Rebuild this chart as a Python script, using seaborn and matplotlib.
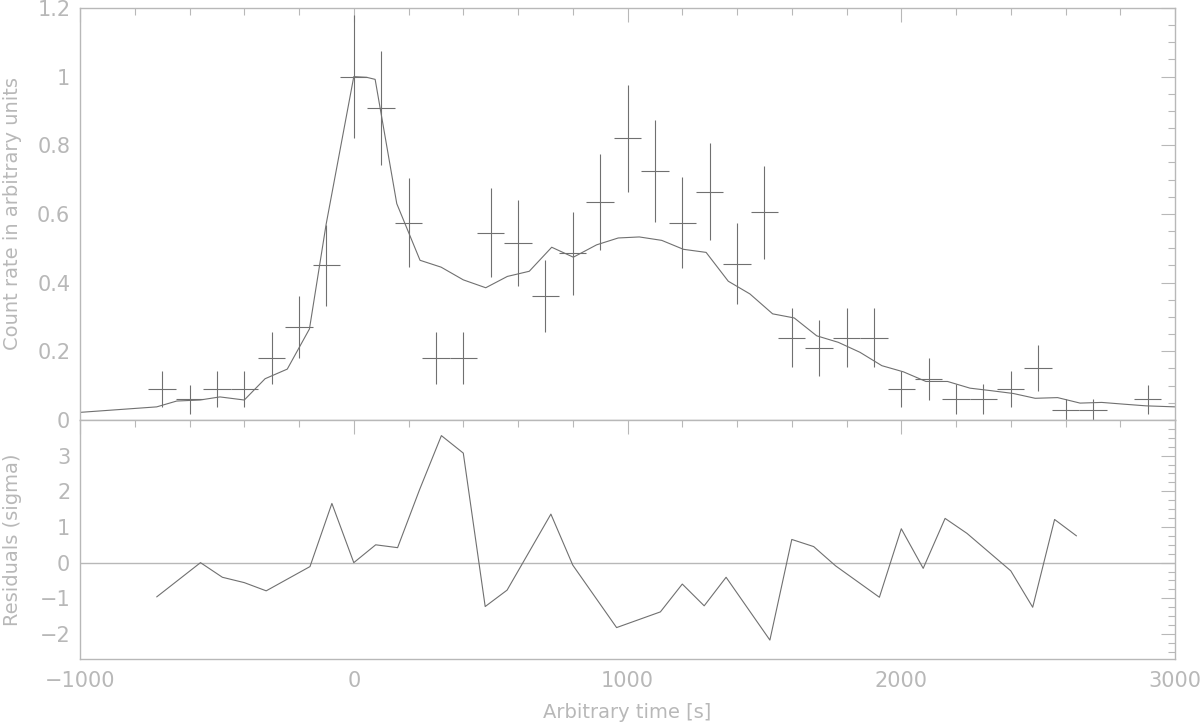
import matplotlib
matplotlib.use("Agg")
import matplotlib.pyplot as plt
import seaborn as sns
import pandas as pd
from matplotlib.ticker import MultipleLocator

# binned light curve (100 s bins)
t_data = [-700, -600, -500, -400, -300, -200, -100, 0, 100, 200, 300, 400, 500, 600,
          700, 800, 900, 1000, 1100, 1200, 1300, 1400, 1500, 1600, 1700, 1800, 1900,
          2000, 2100, 2200, 2300, 2400, 2500, 2600, 2700, 2900]
rate = [0.09, 0.06, 0.09, 0.09, 0.18, 0.27, 0.45, 1.00, 0.91, 0.575, 0.18, 0.18, 0.545,
        0.515, 0.36, 0.485, 0.635, 0.82, 0.725, 0.575, 0.665, 0.455, 0.605, 0.24, 0.21,
        0.24, 0.24, 0.09, 0.12, 0.06, 0.06, 0.09, 0.15, 0.03, 0.03, 0.06]
rate_err = [0.053, 0.043, 0.053, 0.053, 0.075, 0.09, 0.117, 0.18, 0.166, 0.13, 0.075,
            0.075, 0.13, 0.125, 0.105, 0.121, 0.139, 0.157, 0.148, 0.132, 0.141, 0.118,
            0.136, 0.086, 0.081, 0.086, 0.086, 0.053, 0.061, 0.044, 0.044, 0.053, 0.067,
            0.03, 0.03, 0.043]
bin_half = 50

# model curve
t_model = [-1000, -720, -647, -562, -489, -400, -324, -243, -162, -101, 0, 47, 78, 157,
           242, 319, 400, 482, 561, 641, 723, 802, 887, 966, 1043, 1125, 1204, 1287,
           1368, 1447, 1530, 1609, 1691, 1770, 1849, 1929, 2008, 2090, 2169, 2251, 2330,
           2409, 2489, 2571, 2653, 2732, 2811, 2894, 3000]
model = [0.022, 0.038, 0.055, 0.058, 0.067, 0.058, 0.12, 0.148, 0.265, 0.57, 1.0, 0.998,
         0.992, 0.63, 0.465, 0.445, 0.408, 0.385, 0.418, 0.433, 0.503, 0.474, 0.510,
         0.530, 0.533, 0.523, 0.497, 0.488, 0.404, 0.367, 0.309, 0.297, 0.245, 0.226,
         0.197, 0.158, 0.140, 0.112, 0.112, 0.0925, 0.085, 0.077, 0.063, 0.065, 0.049,
         0.051, 0.046, 0.041, 0.038]

# residuals in sigma
t_res = [-720, -560, -480, -400, -320, -160, -80, 0, 80, 160, 240, 320, 400, 480, 560,
         720, 800, 960, 1120, 1200, 1280, 1360, 1520, 1600, 1680, 1760, 1920, 2000,
         2080, 2160, 2240, 2400, 2480, 2560, 2640]
resid = [-0.96, 0.0, -0.41, -0.56, -0.79, -0.11, 1.66, 0.0, 0.50, 0.42, 2.04, 3.56, 3.07,
         -1.23, -0.77, 1.36, -0.07, -1.82, -1.38, -0.60, -1.21, -0.41, -2.17, 0.65, 0.45,
         -0.09, -0.97, 0.95, -0.16, 1.24, 0.82, -0.23, -1.25, 1.21, 0.75]

AX = "#b8b8b8"   # axes / text grey
LN = "#707070"   # data grey

sns.set_style("white")
plt.rcParams["font.family"] = ["DejaVu Sans"]
plt.rcParams.update({
    "axes.edgecolor": AX, "axes.linewidth": 1.0,
    "xtick.color": AX, "ytick.color": AX,
    "xtick.labelcolor": AX, "ytick.labelcolor": AX,
    "xtick.direction": "in", "ytick.direction": "in",
    "text.color": AX, "axes.labelcolor": AX,
})

fig = plt.figure(figsize=(12, 7.24), dpi=100)
ax1 = fig.add_axes([0.0667, 0.42, 0.9125, 0.569])
ax2 = fig.add_axes([0.0667, 0.0898, 0.9125, 0.3302])

df_model = pd.DataFrame({"t": t_model, "rate": model})
df_res = pd.DataFrame({"t": t_res, "resid": resid})

# top: light curve
ax1.errorbar(t_data, rate, xerr=bin_half, yerr=rate_err, fmt="none",
             ecolor=LN, elinewidth=0.8, capsize=0)
sns.lineplot(data=df_model, x="t", y="rate", ax=ax1, color=LN, linewidth=0.8,
             sort=False, estimator=None)
ax1.set_xlim(-1000, 3000)
ax1.set_ylim(0, 1.2)
ax1.set_xlabel("")
ax1.set_ylabel("Count rate in arbitrary units", fontsize=14)
ax1.yaxis.set_label_coords(-0.062, 0.5)
ax1.yaxis.label.set_va("center")
ax1.xaxis.set_major_locator(MultipleLocator(1000))
ax1.xaxis.set_minor_locator(MultipleLocator(200))
ax1.yaxis.set_minor_locator(MultipleLocator(0.05))
ax1.set_yticks([0, 0.2, 0.4, 0.6, 0.8, 1.0, 1.2])
ax1.set_yticklabels(["0", "0.2", "0.4", "0.6", "0.8", "1", "1.2"])
ax1.tick_params(axis="both", which="both", top=True, right=True, labelbottom=False)
ax1.tick_params(which="major", length=10, width=0.8, labelsize=15, pad=7)
ax1.tick_params(which="minor", length=5, width=0.8)

# bottom: residuals
ax2.axhline(0, color=AX, linewidth=1.0)
sns.lineplot(data=df_res, x="t", y="resid", ax=ax2, color=LN, linewidth=0.8,
             sort=False, estimator=None)
ax2.set_xlim(-1000, 3000)
ax2.set_ylim(-2.7, 4.0)
ax2.set_xlabel("Arbitrary time [s]", fontsize=14, labelpad=8)
ax2.set_ylabel("Residuals (sigma)", fontsize=14)
ax2.yaxis.set_label_coords(-0.062, 0.5)
ax2.yaxis.label.set_va("center")
ax2.xaxis.set_major_locator(MultipleLocator(1000))
ax2.xaxis.set_minor_locator(MultipleLocator(200))
ax2.set_yticks([-2, -1, 0, 1, 2, 3])
ax2.yaxis.set_minor_locator(MultipleLocator(0.25))
ax2.tick_params(axis="both", which="both", top=True, right=True)
ax2.tick_params(which="major", length=10, width=0.8, labelsize=15, pad=7)
ax2.tick_params(axis="x", which="major", pad=9)
ax2.tick_params(which="minor", length=5, width=0.8)

for ax in (ax1, ax2):
    for s in ax.spines.values():
        s.set_visible(True)
        s.set_color(AX)

fig.savefig("out.png", dpi=100, facecolor="white")
